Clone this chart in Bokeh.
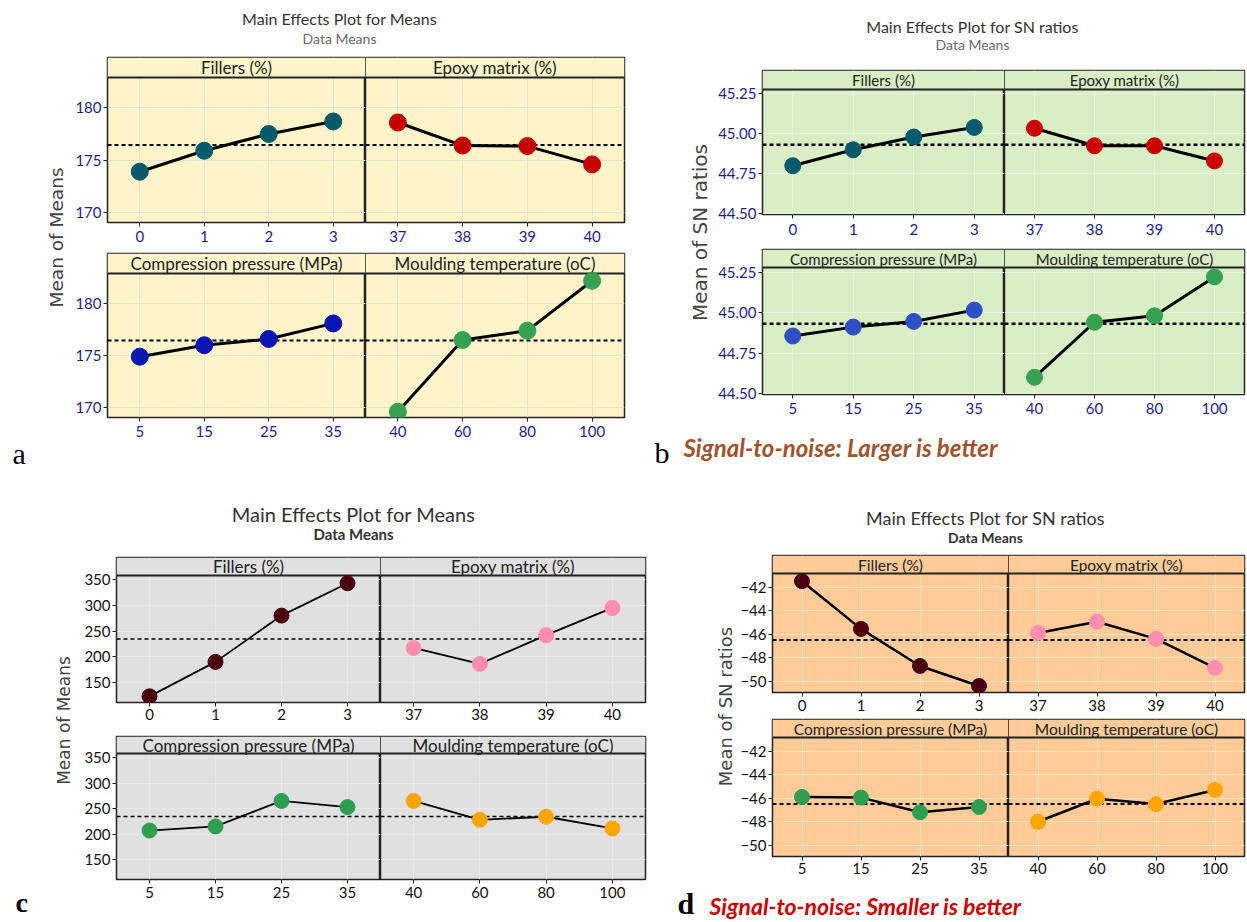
import math
from bokeh.plotting import figure
from bokeh.layouts import row, column, Spacer
from bokeh.models import Range1d, FixedTicker, BoxAnnotation, Span, PrintfTickFormatter
from bokeh.core.properties import value
from bokeh.embed import file_html
from bokeh.resources import INLINE

# ---------------- data ----------------
factor_names = ["Fillers (%)", "Epoxy matrix (%)",
                "Compression pressure (MPa)", "Moulding temperature (oC)"]
fillers_levels = [0, 1, 2, 3]
epoxy_levels = [37, 38, 39, 40]
pressure_levels = [5, 15, 25, 35]
temperature_levels = [40, 60, 80, 100]

# (a) Main effects for means
a_fillers = [173.9, 175.9, 177.5, 178.7]
a_epoxy = [178.6, 176.4, 176.35, 174.6]
a_pressure = [174.9, 176.0, 176.6, 178.1]
a_temperature = [169.6, 176.5, 177.4, 182.2]
# (b) Main effects for SN ratios (larger is better)
b_fillers = [44.80, 44.90, 44.98, 45.04]
b_epoxy = [45.035, 44.925, 44.925, 44.83]
b_pressure = [44.855, 44.91, 44.945, 45.015]
b_temperature = [44.60, 44.94, 44.98, 45.22]
# (c) Main effects for means
c_fillers = [123, 190, 280, 343]
c_epoxy = [217, 186, 242, 295]
c_pressure = [207, 215, 265, 253]
c_temperature = [265, 228, 234, 211]
# (d) Main effects for SN ratios (smaller is better)
d_fillers = [-41.5, -45.55, -48.7, -50.4]
d_epoxy = [-45.9, -44.95, -46.4, -48.85]
d_pressure = [-45.9, -45.95, -47.2, -46.75]
d_temperature = [-48.0, -46.05, -46.5, -45.3]

a_yticks = [170, 175, 180]
b_yticks = [44.50, 44.75, 45.00, 45.25]
c_yticks = [150, 200, 250, 300, 350]
d_yticks = [-50, -48, -46, -44, -42]

titles = ["Main Effects Plot for Means", "Main Effects Plot for SN ratios",
          "Main Effects Plot for Means", "Main Effects Plot for SN ratios"]
subtitle = "Data Means"
ylabels = ["Mean of Means", "Mean of SN ratios", "Mean of Means", "Mean of SN ratios"]
panel_letters = ["a", "b", "c", "d"]
sn_notes = ["Signal-to-noise: Larger is better", "Signal-to-noise: Smaller is better"]

levels_list = [fillers_levels, epoxy_levels, pressure_levels, temperature_levels]

# ---------------- styles ----------------
style_a = dict(bg="#FFF4C9", grid="#E6E2D3", frame="#222222", tick_color="#1E1E8A",
               tick_size="15px", strip_size="17px", lw=3, ms=17, dash="4 3", dash_w=2,
               colors=["#075A6C", "#C40000", "#0B17B5", "#34A251"])
style_b = dict(bg="#D9EEC5", grid="#E8F2DE", frame="#222222", tick_color="#1E1E8A",
               tick_size="15px", strip_size="15px", lw=3, ms=16, dash="4 3", dash_w=2.5,
               colors=["#075A6C", "#CC0000", "#2F4FC4", "#34A251"])
style_c = dict(bg="#E0E0E0", grid="#E9E9E9", frame="#222222", tick_color="#111111",
               tick_size="15px", strip_size="17px", lw=1.8, ms=15, dash="4 3", dash_w=1.5,
               colors=["#4A000F", "#FF8DB0", "#2E9E51", "#FFA500"])
style_d = dict(bg="#FFCC99", grid="#FFE3C6", frame="#222222", tick_color="#111111",
               tick_size="15px", strip_size="15.5px", lw=2.5, ms=15, dash="4 3", dash_w=2,
               colors=["#4A000F", "#FF8DB0", "#2E9E51", "#FFA500"])


def text_fig(w, h):
    p = figure(width=w, height=h, x_range=Range1d(0, w), y_range=Range1d(0, h),
               x_axis_location=None, y_axis_location=None, toolbar_location=None,
               output_backend="svg", min_border=0, outline_line_color=None,
               background_fill_color="white", border_fill_color="white")
    p.xgrid.visible = False
    p.ygrid.visible = False
    return p


def put(p, x, y, s, font="Lato", size="16px", color="#333333", style="normal",
        align="center", baseline="middle", angle=0.0):
    p.text(x=[x], y=[y], text=[s], text_font=value(font), text_font_size=size,
           text_color=color, text_font_style=style, text_align=align,
           text_baseline=baseline, angle=angle)


def style_axis(ax, ticks, st, std):
    ax.ticker = FixedTicker(ticks=ticks)
    ax.axis_line_color = None
    ax.major_tick_in = 0
    ax.major_tick_out = 4
    ax.minor_tick_in = 0
    ax.minor_tick_out = 0
    ax.major_tick_line_color = st["frame"]
    ax.major_tick_line_width = 1
    ax.major_label_text_font = "Lato"
    ax.major_label_text_font_size = st["tick_size"]
    ax.major_label_text_color = st["tick_color"]
    ax.major_label_standoff = std


def sub_fig(w, h, bl, br, bt, bb, levels, vals, yr, hs, hp, yticks, show_y, st,
            color, name, mean, std, fmt):
    lo, hi = yr
    top = hi + hs * (hi - lo) / hp
    step = levels[1] - levels[0]
    p = figure(width=w, height=h,
               x_range=Range1d(levels[0] - step / 2, levels[-1] + step / 2),
               y_range=Range1d(lo, top),
               x_axis_location="below", y_axis_location="left" if show_y else None,
               toolbar_location=None, output_backend="svg",
               min_border_left=bl, min_border_right=br,
               min_border_top=bt, min_border_bottom=bb,
               background_fill_color=st["bg"], border_fill_color="white",
               outline_line_color=st["frame"], outline_line_width=1.5)
    p.xgrid.ticker = FixedTicker(ticks=levels)
    p.ygrid.ticker = FixedTicker(ticks=yticks)
    p.xgrid.grid_line_color = st["grid"]
    p.ygrid.grid_line_color = st["grid"]
    p.xgrid.grid_line_width = 1
    p.ygrid.grid_line_width = 1
    style_axis(p.xaxis[0], levels, st, std)
    if show_y:
        style_axis(p.yaxis[0], yticks, st, 2)
        if fmt:
            p.yaxis[0].formatter = PrintfTickFormatter(format=fmt)
    strip = BoxAnnotation(bottom=hi, top=top, fill_color=st["bg"], fill_alpha=1.0,
                          line_color=None, level="underlay")
    p.add_layout(strip)
    p.add_layout(Span(location=hi, dimension="width", line_color=st["frame"],
                      line_alpha=1.0, line_width=2, level="underlay"))
    p.add_layout(Span(location=mean, dimension="width", line_color="black",
                      line_dash=st["dash"], line_width=st["dash_w"], level="underlay"))
    p.line(levels, vals, line_color="black", line_width=st["lw"])
    p.scatter(levels, vals, size=st["ms"], fill_color=color, line_color=color)
    p.text(x=[(levels[0] + levels[-1]) / 2], y=[(hi + top) / 2], text=[name],
           text_font=value("Lato"), text_font_size=st["strip_size"], text_color="#222222",
           text_align="center", text_baseline="middle")
    return p


def build_grid(series, yr, yticks, st, g, fmt=None):
    allv = [v for s in series for v in s]
    mean = sum(allv) / len(allv)
    rows_ = []
    for r, (h, bt, bb, hs, hp, std) in enumerate(g["rows"]):
        figs = []
        for c in range(2):
            k = 2 * r + c
            figs.append(sub_fig(
                w=g["wl"] if c == 0 else g["wr"], h=h,
                bl=g["bl"] if c == 0 else 0, br=0 if c == 0 else g["br"],
                bt=bt, bb=bb, levels=levels_list[k], vals=series[k], yr=yr,
                hs=hs, hp=hp, yticks=yticks, show_y=(c == 0), st=st,
                color=st["colors"][k], name=factor_names[k], mean=mean, std=std, fmt=fmt))
        rows_.append(row(*figs))
    return column(*rows_)


# ---------------- panel a ----------------
ha = text_fig(632, 48)
put(ha, 331, 38, titles[0], size="16px", color="#333333")
put(ha, 331, 18, subtitle, size="14px", color="#6A6A6A")
ya = text_fig(60, 414)
put(ya, 48, 233, ylabels[0], font="DejaVu Sans", size="18.5px", color="#444444",
    angle=math.pi / 2)
put(ya, 4, 17, panel_letters[0], font="Liberation Serif", size="30px", color="#000000",
    align="left")
ga = build_grid([a_fillers, a_epoxy, a_pressure, a_temperature], (169.05, 182.9),
                a_yticks, style_a,
                dict(wl=297, wr=275, bl=39, br=16,
                     rows=[(196, 1, 30, 20, 145, 4), (192, 1, 27, 20, 144, 4)]))
panel_a = column(ha, row(ya, column(ga, Spacer(width=572, height=26))))

# ---------------- panel b ----------------
hb = text_fig(606, 61)
put(hb, 332, 43, titles[1], size="16px", color="#333333")
put(hb, 332, 25, subtitle, size="14px", color="#6A6A6A")
yb = text_fig(72, 356)
put(yb, 59, 193, ylabels[1], font="DejaVu Sans", size="20px", color="#444444",
    angle=math.pi / 2)
gb = build_grid([b_fillers, b_epoxy, b_pressure, b_temperature], (44.494, 45.278),
                b_yticks, style_b,
                dict(wl=292, wr=242, bl=50, br=2,
                     rows=[(179, 1, 34, 19, 125, 5), (177, 1, 31, 18, 127, 4)]),
                fmt="%.2f")
fb = text_fig(606, 45)
put(fb, 14, 18, panel_letters[1], font="Liberation Serif", size="30px", color="#000000",
    align="left")
put(fb, 43, 23, sn_notes[0], size="24px", color="#A0522D", style="bold italic",
    align="left")
panel_b = column(hb, row(yb, gb), fb)

# ---------------- panel c ----------------
hc = text_fig(640, 86)
put(hc, 345, 43, titles[2], size="20px", color="#333333")
put(hc, 345, 23, subtitle, size="15px", color="#333333", style="bold")
yc = text_fig(68, 365)
put(yc, 55, 201, ylabels[2], font="DejaVu Sans", size="17px", color="#444444",
    angle=math.pi / 2)
put(yc, 7, 19, panel_letters[2], font="Liberation Serif", size="28px", color="#000000",
    style="bold", align="left")
gc = build_grid([c_fillers, c_epoxy, c_pressure, c_temperature], (111, 358),
                c_yticks, style_c,
                dict(wl=304, wr=268, bl=40, br=3,
                     rows=[(179, 1, 33, 18, 127, 2), (186, 1, 42, 17, 126, 3)]))
panel_c = column(hc, row(yc, gc))

# ---------------- panel d ----------------
hd = text_fig(598, 84)
put(hd, 337, 37, titles[3], size="18px", color="#333333")
put(hd, 337, 17, subtitle, size="14px", color="#333333", style="bold")
yd = text_fig(89, 328)
put(yd, 77, 176, ylabels[3], font="DejaVu Sans", size="18px", color="#444444",
    angle=math.pi / 2)
gd = build_grid([d_fillers, d_epoxy, d_pressure, d_temperature], (-50.95, -40.85),
                d_yticks, style_d,
                dict(wl=271, wr=238, bl=33, br=2,
                     rows=[(164, 1, 26, 18, 119, 3), (164, 1, 26, 18, 119, 2)]))
fd = text_fig(598, 39)
put(fd, 29, 18, panel_letters[3], font="Liberation Serif", size="30px", color="#000000",
    style="bold", align="left")
put(fd, 61, 16, sn_notes[1], size="23px", color="#CC0000", style="bold italic",
    align="left")
panel_d = column(hd, row(yd, gd), fd)

main = column(row(panel_a, panel_b), row(panel_c, panel_d))
layout = column(Spacer(width=1246, height=8), row(Spacer(width=8, height=913), main))

open("out.html", "w").write(file_html(layout, INLINE))
